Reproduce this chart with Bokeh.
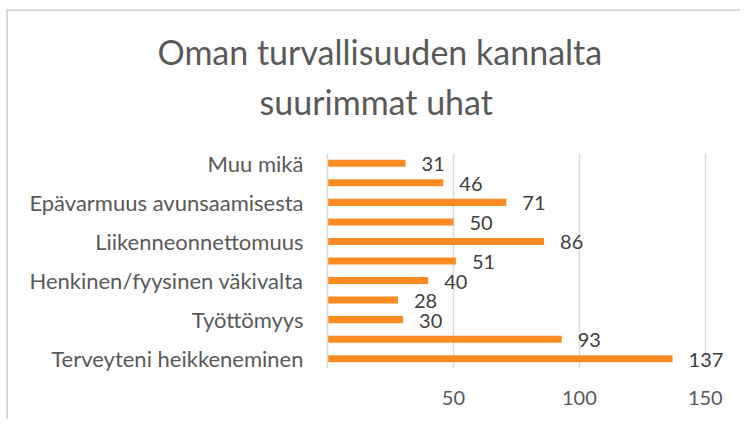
from bokeh.plotting import figure
from bokeh.models import Range1d, FixedTicker, Title, ColumnDataSource, LabelSet, LinearAxis
from bokeh.core.properties import value
from bokeh.embed import file_html
from bokeh.resources import INLINE

# ---- data ----
categories = ["Terveyteni heikkeneminen", "", "Työttömyys", "",
              "Henkinen/fyysinen väkivalta", "", "Liikenneonnettomuus", "",
              "Epävarmuus avunsaamisesta", "", "Muu mikä"]
values = [137, 93, 30, 28, 40, 51, 86, 50, 71, 46, 31]
x_ticks = [50, 100, 150]
title_lines = ["Oman turvallisuuden kannalta", "suurimmat uhat"]

FONT = "Lato"
TXT = "#595959"
X_END = 160
positions = list(range(len(values)))
src = ColumnDataSource(dict(pos=positions, value=values,
                            label=[str(v) for v in values]))

p = figure(width=734, height=410, output_backend="svg", toolbar_location=None,
           x_range=Range1d(0, X_END), y_range=Range1d(-0.5, len(values) - 0.5),
           min_border_left=319, min_border_right=12,
           min_border_top=142, min_border_bottom=53)
p.styles = {"margin-left": "6px", "margin-top": "9px",
            "border-top": "2px solid #d9d9d9", "border-left": "2px solid #d9d9d9"}
p.outline_line_color = None
p.background_fill_color = "white"
p.border_fill_color = "white"

p.hbar(y="pos", left=0, right="value", height=0.36, source=src,
       fill_color="#fd8b22", line_color=None)

p.add_layout(LabelSet(x="value", y="pos", text="label", source=src,
                      x_offset=16, y_offset=-1, text_baseline="middle",
                      text_font=value(FONT), text_font_size=value("20px"),
                      text_color="#404040"))

# axes
p.yaxis.ticker = FixedTicker(ticks=positions)
p.yaxis.major_label_overrides = {i: c for i, c in enumerate(categories)}
p.yaxis.major_tick_line_color = None
p.yaxis.minor_tick_line_color = None
p.yaxis.axis_line_color = "#d9d9d9"
p.yaxis.axis_line_width = 1.5
p.yaxis.major_label_text_font = FONT
p.yaxis.major_label_text_font_size = "22px"
p.yaxis.major_label_text_color = TXT
p.yaxis.major_label_standoff = 18

p.xaxis.ticker = FixedTicker(ticks=x_ticks)
p.xaxis.axis_line_color = None
p.xaxis.major_tick_line_color = None
p.xaxis.minor_tick_line_color = None
p.xaxis.major_label_text_font = FONT
p.xaxis.major_label_text_font_size = "20px"
p.xaxis.major_label_text_color = TXT
p.xaxis.major_label_standoff = 16

p.xgrid.ticker = FixedTicker(ticks=x_ticks)
p.xgrid.grid_line_color = "#d9d9d9"
p.xgrid.grid_line_width = 1.5
p.ygrid.grid_line_color = None

# invisible spacer axis between plot and title: one white tick at the far right edge
spacer = LinearAxis(ticker=FixedTicker(ticks=[X_END - 1]), axis_line_color=None,
                    major_tick_line_color="white", minor_tick_line_color=None,
                    major_tick_out=32, major_tick_in=0, minor_tick_out=0,
                    major_label_standoff=0, major_label_text_color=None,
                    major_label_text_font_size="1px",
                    major_label_overrides={X_END - 1: ""})
p.add_layout(spacer, "above")

# title (two lines, second added first so it sits closest to the plot)
p.title.text = ""
p.add_layout(Title(text=title_lines[1], align="left", offset=-68, standoff=0,
                   text_font=FONT, text_font_size="34px", text_color=TXT,
                   text_line_height=0.75, text_font_style="normal"), "above")
p.add_layout(Title(text=title_lines[0], align="left", offset=-170, standoff=13,
                   text_font=FONT, text_font_size="34px", text_color=TXT,
                   text_line_height=0.75, text_font_style="normal"), "above")

open("out.html", "w").write(file_html(p, INLINE))
